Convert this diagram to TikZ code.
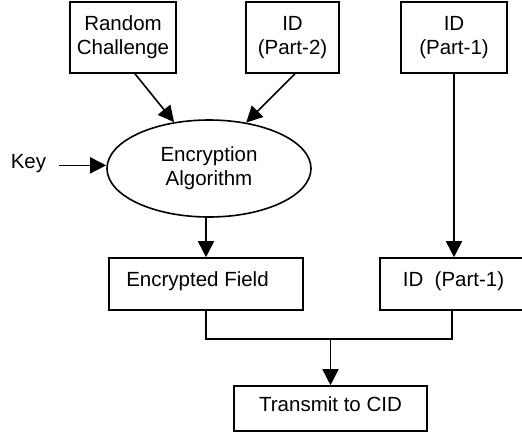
\documentclass[tikz,border=0pt]{standalone}
\usepackage{fontspec}
\setmainfont{Liberation Sans}
\usetikzlibrary{shapes.geometric,arrows.meta,calc}
\begin{document}
\begin{tikzpicture}[x=1pt,y=-1pt,
  every node/.style={font=\fontsize{20.5}{24}\selectfont},
  box/.style={draw,line width=1.6pt,rectangle,inner sep=0pt,align=center},
  arr/.style={-{Triangle[length=16pt,width=16pt]}},
  line width=1.6pt]
\useasboundingbox (0,0) rectangle (522,432);
\node[box,minimum width=106pt,minimum height=71pt] (rc) at (123,37.5) {Random\\Challenge};
\node[box,minimum width=93pt,minimum height=71pt] (id2) at (292.5,37.5) {ID\\(Part-2)};
\node[box,minimum width=106pt,minimum height=71pt] (id1) at (454,37.5) {ID\\(Part-1)};
\node[draw,ellipse,line width=1.6pt,minimum width=204pt,minimum height=97pt,inner sep=0pt,align=center] (enc) at (209,168.5) {Encryption\\Algorithm};
\node[anchor=base west,inner sep=0pt] (key) at (10,168) {Key};
\node[box,minimum width=194pt,minimum height=52pt] (ef) at (206,284) {};
\node[anchor=base,inner sep=0pt] (eft) at (197.5,286) {Encrypted Field};
\node[box,minimum width=144pt,minimum height=52pt] (idb) at (452,284) {};
\node[anchor=base,inner sep=0pt] (idbt) at (453.5,286) {ID\ \ (Part-1)};
\node[box,minimum width=193pt,minimum height=45pt,text height=15pt,text depth=10pt] (tx) at (330.5,408.5) {Transmit to CID};
\draw[arr] ($(rc.south)+(12,0)$) -- (enc.127);
\draw[arr] ($(id2.south)+(2.5,0)$) -- (enc.51);
\draw[arr] ($(key.mid east)+(12,0)$) -- (key.mid east -| enc.west);
\draw[arr] (ef.north |- enc.south) -- (ef.north);
\draw[arr] (id1.south) -- (id1.south |- idb.north);
\coordinate (m) at ($(tx.north)+(0,-46)$);
\draw (ef.south) |- (m) -| (idb.south);
\draw[arr] (m) -- (tx.north);
\end{tikzpicture}
\end{document}
